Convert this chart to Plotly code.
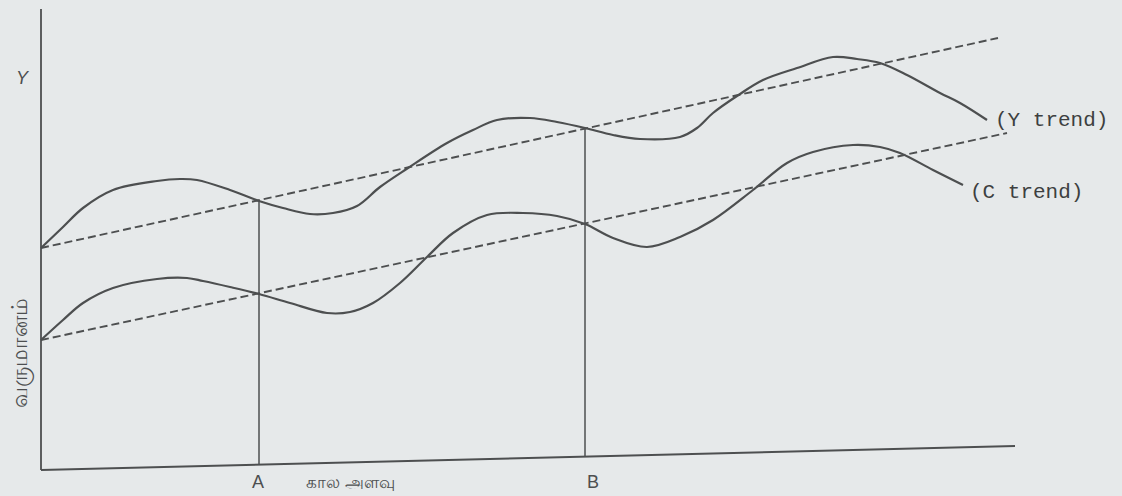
import plotly.graph_objects as go

# Y (income) curve and C curve; origin at the axis corner
y_time = [0, 22, 42, 72, 116, 139, 156, 189, 218, 242, 269, 292, 316, 339, 367, 406, 432, 456,
          489, 516, 544, 572, 599, 639, 656, 672, 696, 722, 756, 792, 816, 839, 866, 899, 919, 946]
y_income = [222, 243, 262, 280, 289, 291, 290, 280, 269, 262, 256, 257, 264, 283, 302, 327, 340, 350,
            352, 348, 342, 335, 331, 333, 342, 357, 374, 390, 402, 413, 411, 407, 395, 377, 367, 350]

c_time = [0, 22, 42, 72, 116, 146, 162, 189, 218, 249, 286, 309, 332, 359, 386, 412, 446, 482,
          516, 544, 572, 606, 639, 672, 712, 746, 772, 812, 839, 859, 892, 922]
c_income = [130, 150, 167, 182, 191, 192, 189, 183, 176, 167, 157, 158, 167, 187, 213, 237, 255, 257,
            254, 246, 232, 223, 233, 250, 280, 307, 318, 325, 323, 317, 300, 285]

# trend lines (start / end)
y_trend_x = [0, 957]
y_trend_y = [222, 432]
c_trend_x = [0, 966]
c_trend_y = [130, 337]

# the two time marks A and B
mark_x = {"A": 218, "B": 544}
mark_bottom = {"A": 5, "B": 14}
mark_top = {"A": 269, "B": 342}

# hand drawn axes (x axis is a little slanted in the scan)
x_axis_x = [0, 974]
x_axis_y = [0, 24]
y_axis_x = [0, 0]
y_axis_y = [0, 461]

ink = "#4d4f50"
paper = "#e6e9ea"

fig = go.Figure()

fig.add_trace(go.Scatter(x=x_axis_x, y=x_axis_y, mode="lines", line=dict(color=ink, width=2)))
fig.add_trace(go.Scatter(x=y_axis_x, y=y_axis_y, mode="lines", line=dict(color=ink, width=1.8)))

for k in mark_x:
    fig.add_trace(go.Scatter(x=[mark_x[k], mark_x[k]], y=[mark_bottom[k], mark_top[k]],
                             mode="lines", line=dict(color=ink, width=1.5)))

fig.add_trace(go.Scatter(x=y_trend_x, y=y_trend_y, mode="lines",
                         line=dict(color=ink, width=1.9, dash="8px,4px")))
fig.add_trace(go.Scatter(x=c_trend_x, y=c_trend_y, mode="lines",
                         line=dict(color=ink, width=1.9, dash="8px,4px")))

fig.add_trace(go.Scatter(x=y_time, y=y_income, mode="lines", line_shape="spline",
                         line=dict(color=ink, width=2.2)))
fig.add_trace(go.Scatter(x=c_time, y=c_income, mode="lines", line_shape="spline",
                         line=dict(color=ink, width=2.2)))

hand = dict(family="Liberation Sans", color=ink)
mono = dict(family="Liberation Mono", color="#3d3f40", size=21)

fig.add_annotation(x=-18, y=392, text="<i>Y</i>", showarrow=False, font=dict(size=18, **hand))
fig.add_annotation(x=-21, y=117, text="வருமானம்", textangle=-90, showarrow=False,
                   font=dict(size=22, **hand))
fig.add_annotation(x=217, y=-12, text="A", showarrow=False, font=dict(size=18, **hand))
fig.add_annotation(x=309, y=-12, text="கால அளவு", showarrow=False, font=dict(size=17, **hand))
fig.add_annotation(x=552, y=-12, text="B", showarrow=False, font=dict(size=18, **hand))
fig.add_annotation(x=952, y=350, text="(Y trend)", xanchor="left", showarrow=False, font=mono)
fig.add_annotation(x=927, y=278, text="(C trend)", xanchor="left", showarrow=False, font=mono)

fig.update_xaxes(range=[-41, 1081], visible=False)
fig.update_yaxes(range=[-26, 470], visible=False)
fig.update_layout(width=1122, height=496, autosize=False, showlegend=False,
                  margin=dict(l=0, r=0, t=0, b=0),
                  paper_bgcolor=paper, plot_bgcolor=paper)

# drop the page's default 8px body margin so the figure sits at the window corner
fig.write_html("out.html", config={"displayModeBar": False},
               post_script="document.body.style.margin='0';document.body.style.overflow='hidden';")
